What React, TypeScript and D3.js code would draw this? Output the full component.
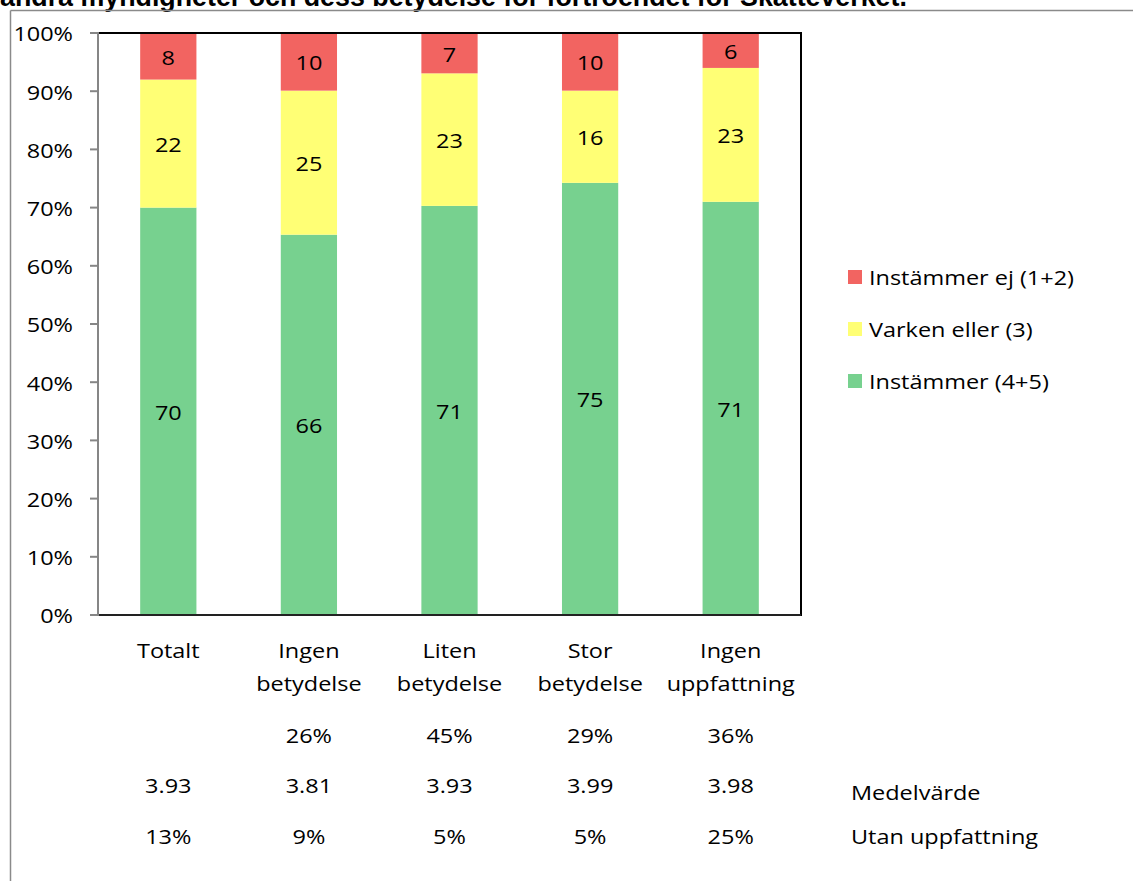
import React from "react";
import * as d3 from "d3";

const categories = ["Totalt", "Ingen betydelse", "Liten betydelse", "Stor betydelse", "Ingen uppfattning"];
const categoryLines = [["Totalt"], ["Ingen", "betydelse"], ["Liten", "betydelse"], ["Stor", "betydelse"], ["Ingen", "uppfattning"]];
const seriesNames = ["Instämmer (4+5)", "Varken eller (3)", "Instämmer ej (1+2)"];
const agree = [70, 66, 71, 75, 71];
const neither = [22, 25, 23, 16, 23];
const disagree = [8, 10, 7, 10, 6];
const shareRow = ["", "26%", "45%", "29%", "36%"];
const meanRow = ["3.93", "3.81", "3.93", "3.99", "3.98"];
const noOpinionRow = ["13%", "9%", "5%", "5%", "25%"];
const yTicks = [0, 0.1, 0.2, 0.3, 0.4, 0.5, 0.6, 0.7, 0.8, 0.9, 1];
const title = "andra myndigheter och dess betydelse för förtroendet för Skatteverket.";

const colors = ["#77D18F", "#FFFF75", "#F26461"];
const FONT = "'Open Sans', Lato, sans-serif";
const SX = 1.145;
const FS = 20.5;

function T({ x, y, anchor = "start", children }: { x: number; y: number; anchor?: string; children: React.ReactNode }) {
  return (
    <text transform={`translate(${x},${y}) scale(${SX},1)`} textAnchor={anchor} dominantBaseline="central" fontSize={FS} fill="#000">
      {children}
    </text>
  );
}

export default function App() {
  const W = 1133, H = 881;
  const left = 98, right = 801, top = 33, bottom = 615;
  const x = d3.scaleBand<string>().domain(categories).range([left, right]).paddingInner(0.6).paddingOuter(0.3);
  const y = d3.scaleLinear().domain([0, 1]).range([bottom, top]);

  const rows = categories.map((c, i) => ({ cat: c, a: agree[i], n: neither[i], d: disagree[i] }));
  const stack = d3.stack<any>().keys(["a", "n", "d"]).offset(d3.stackOffsetExpand);
  const stacked = stack(rows);
  const rawKeys = ["a", "n", "d"];

  const legendOrder = [2, 1, 0];
  const legendY = d3.scalePoint<number>().domain(legendOrder).range([277, 381]);

  return (
    <svg width={W} height={H} style={{ position: "absolute", left: 0, top: 0, background: "#fff" }} fontFamily={FONT}>
      <rect x={0} y={0} width={W} height={H} fill="#fff" />
      <text x={0} y={6} fontFamily="'Liberation Sans', Arial, sans-serif" fontWeight="bold" fontSize={26.8} fill="#000">{title}</text>
      <line x1={10.5} y1={10.5} x2={W} y2={10.5} stroke="#8a8a8a" strokeWidth={1.5} />
      <line x1={10.5} y1={10.5} x2={10.5} y2={H} stroke="#8a8a8a" strokeWidth={1.5} />

      {stacked.map((layer, si) =>
        layer.map((seg, ci) => {
          const x0 = x(categories[ci])!;
          const y0 = y(seg[1]);
          const y1 = y(seg[0]);
          const raw = (rows[ci] as any)[rawKeys[si]];
          return (
            <g key={`${si}-${ci}`}>
              <rect x={x0} y={y0} width={x.bandwidth()} height={y1 - y0} fill={colors[si]} />
              <T x={x0 + x.bandwidth() / 2} y={(y0 + y1) / 2} anchor="middle">{raw}</T>
            </g>
          );
        })
      )}

      <line x1={left} y1={top} x2={right} y2={top} stroke="#000" strokeWidth={2} />
      <line x1={right} y1={top - 1} x2={right} y2={bottom + 1} stroke="#000" strokeWidth={2} />
      <line x1={left} y1={bottom} x2={right} y2={bottom} stroke="#222" strokeWidth={2} />
      <line x1={left} y1={top - 1} x2={left} y2={bottom + 1} stroke="#868686" strokeWidth={2} />
      {yTicks.map((t) => (
        <g key={t}>
          <line x1={90} y1={y(t)} x2={left} y2={y(t)} stroke="#868686" strokeWidth={2} />
          <T x={73} y={y(t)} anchor="end">{d3.format(".0%")(t)}</T>
        </g>
      ))}

      {categories.map((c, i) => {
        const cx = x(c)! + x.bandwidth() / 2;
        return (
          <g key={c}>
            {categoryLines[i].map((ln, li) => (
              <T key={li} x={cx} y={650 + li * 33} anchor="middle">{ln}</T>
            ))}
            <T x={cx} y={735} anchor="middle">{shareRow[i]}</T>
            <T x={cx} y={785} anchor="middle">{meanRow[i]}</T>
            <T x={cx} y={836} anchor="middle">{noOpinionRow[i]}</T>
          </g>
        );
      })}
      <T x={851} y={792}>Medelvärde</T>
      <T x={851} y={836}>Utan uppfattning</T>

      {legendOrder.map((si) => (
        <g key={si}>
          <rect x={848} y={legendY(si)! - 7} width={14} height={14} fill={colors[si]} />
          <T x={869} y={legendY(si)!}>{seriesNames[si]}</T>
        </g>
      ))}
    </svg>
  );
}
